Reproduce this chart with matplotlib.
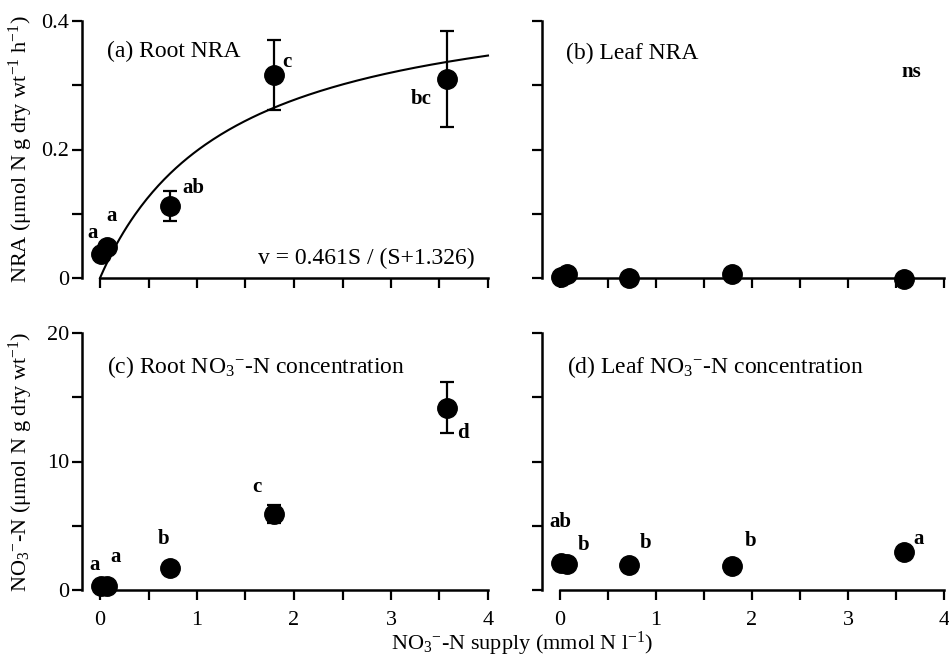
import numpy as np
import matplotlib
matplotlib.use("Agg")
import matplotlib.pyplot as plt

plt.rcParams["font.family"] = ["Liberation Serif", "DejaVu Serif"]
plt.rcParams["mathtext.fontset"] = "custom"
plt.rcParams["mathtext.rm"] = "Liberation Serif"
plt.rcParams["mathtext.it"] = "Liberation Serif:italic"
plt.rcParams["mathtext.bf"] = "Liberation Serif:bold"

# ---- data ----
supply = [0.01, 0.07, 0.72, 1.79, 3.58]
root_nra = [0.038, 0.048, 0.112, 0.316, 0.310]
root_nra_err = [0.0, 0.0, 0.023, 0.054, 0.075]
root_nra_letters = ["a", "a", "ab", "c", "bc"]
leaf_nra = [0.002, 0.006, 0.0, 0.006, -0.001]
root_no3 = [0.34, 0.34, 1.69, 5.9, 14.2]
root_no3_err = [0.0, 0.0, 0.0, 0.7, 2.0]
root_no3_letters = ["a", "a", "b", "c", "d"]
leaf_no3 = [2.08, 2.0, 1.95, 1.87, 2.99]
leaf_no3_letters = ["ab", "b", "b", "b", "a"]
vmax, km = 0.461, 1.326

xticks = [0, 0.5, 1, 1.5, 2, 2.5, 3, 3.5, 4]
xticklabels = ["0", "", "1", "", "2", "", "3", "", "4"]
nra_ticks = [0, 0.1, 0.2, 0.3, 0.4]
nra_labels = ["0", "", "0.2", "", "0.4"]
no3_ticks = [0, 5, 10, 15, 20]
no3_labels = ["0", "", "10", "", "20"]

NO3 = "NO$_{3}$$^{-}$"

# letter label positions (data coords)
root_nra_lpos = [(-0.08, 0.070), (0.124, 0.0965), (0.96, 0.140), (1.93, 0.336), (3.31, 0.279)]
root_no3_lpos = [(-0.06, 1.95), (0.165, 2.57), (0.66, 3.97), (1.62, 8.02), (3.74, 12.2)]
leaf_no3_lpos = [(0.0, 5.29), (0.25, 3.5), (0.89, 3.66), (1.99, 3.81), (3.73, 3.97)]

W, H = 949, 661
fig = plt.figure(figsize=(W / 100, H / 100), dpi=100)

def px_axes(left, right, top, bottom):
    return fig.add_axes([left / W, 1 - bottom / H, (right - left) / W, (bottom - top) / H])

FS = 16
LFS = 15
MS = 14

def style(ax, yticks, ylabels, ylim, show_x, show_y, x0frac):
    ax.set_xlim(x0frac, 4.0)
    ax.set_ylim(*ylim)
    for s in ["top", "right"]:
        ax.spines[s].set_visible(False)
    ax.spines["bottom"].set_bounds(0, 4)
    ax.spines["left"].set_bounds(ylim[0], ylim[1])
    for s in ["bottom", "left"]:
        ax.spines[s].set_linewidth(1.8)
    ax.set_xticks(xticks)
    ax.set_xticklabels(xticklabels if show_x else [""] * len(xticks))
    ax.set_yticks(yticks)
    ax.set_yticklabels(ylabels if show_y else [""] * len(yticks))
    ax.tick_params(direction="out", length=7, width=1.6, labelsize=FS)
    ax.tick_params(axis="x", pad=8)
    ax.tick_params(axis="y", pad=2)
    ax.patch.set_visible(False)

xleft = -18 / 97.0

# (a)
axa = px_axes(82, 488, 21, 278)
style(axa, nra_ticks, nra_labels, (0, 0.4), False, True, xleft)
S = np.linspace(0, 4, 200)
axa.plot(S, vmax * S / (S + km), color="black", lw=1.5, clip_on=False)
axa.errorbar(supply, root_nra, yerr=root_nra_err, fmt="o", color="black", ms=MS,
             capsize=5, elinewidth=1.6, capthick=1.6, clip_on=False, zorder=3)
for (x, y), t in zip(root_nra_lpos, root_nra_letters):
    axa.text(x, y, t, ha="center", va="center", fontsize=LFS, fontweight="bold")
axa.text(0.072, 0.352, "(a) Root NRA", ha="left", va="center", fontsize=FS + 1)
axa.text(3.86, 0.031, "v = 0.461S / (S+1.326)", ha="right", va="center", fontsize=FS + 1)
axa.set_ylabel("NRA (μmol N g dry wt$^{-1}$ h$^{-1}$)", fontsize=FS)

# (b)
axb = px_axes(542, 944, 21, 278)
style(axb, nra_ticks, nra_labels, (0, 0.4), False, False, -18 / 96.0)
axb.plot(supply, leaf_nra, "o", color="black", ms=MS, clip_on=False, zorder=3)
axb.text(0.062, 0.350, "(b) Leaf NRA", ha="left", va="center", fontsize=FS + 1)
axb.text(3.66, 0.3206, "ns", ha="center", va="center", fontsize=LFS, fontweight="bold")

# (c)
axc = px_axes(82, 488, 333, 590)
style(axc, no3_ticks, no3_labels, (0, 20), True, True, xleft)
axc.errorbar(supply, root_no3, yerr=root_no3_err, fmt="o", color="black", ms=MS,
             capsize=5, elinewidth=1.6, capthick=1.6, clip_on=False, zorder=3)
for (x, y), t in zip(root_no3_lpos, root_no3_letters):
    axc.text(x, y, t, ha="center", va="center", fontsize=LFS, fontweight="bold")
axc.text(0.072, 17.35, "(c) Root " + NO3 + "-N concentration", ha="left", va="center", fontsize=FS + 1)
axc.set_ylabel(NO3 + "-N (μmol N g dry wt$^{-1}$)", fontsize=FS)

# (d)
axd = px_axes(542, 944, 333, 590)
style(axd, no3_ticks, no3_labels, (0, 20), True, False, -18 / 96.0)
axd.plot(supply, leaf_no3, "o", color="black", ms=MS, clip_on=False, zorder=3)
for (x, y), t in zip(leaf_no3_lpos, leaf_no3_letters):
    axd.text(x, y, t, ha="center", va="center", fontsize=LFS, fontweight="bold")
axd.text(0.072, 17.35, "(d) Leaf " + NO3 + "-N concentration", ha="left", va="center", fontsize=FS + 1)

fig.text(522 / W, 1 - 644 / H, NO3 + "-N supply (mmol N l$^{-1}$)", ha="center", va="center", fontsize=FS)

# align y labels
axa.yaxis.set_label_coords(-(82 - 35) / 406, 0.5)
axc.yaxis.set_label_coords(-(82 - 35) / 406, 0.5)

fig.savefig("out.png", dpi=100)
